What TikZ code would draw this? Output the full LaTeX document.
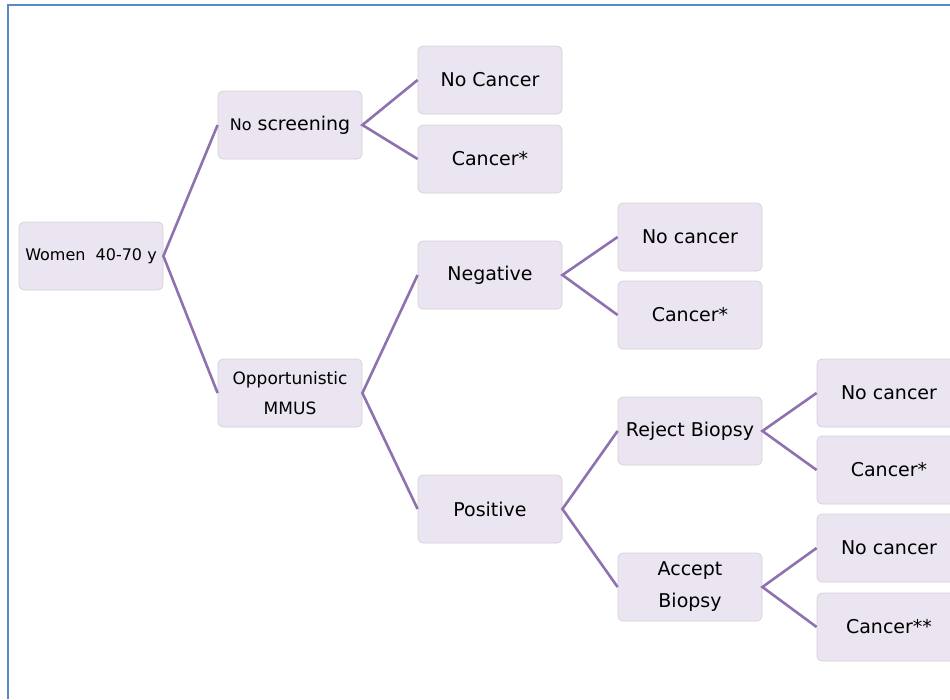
\documentclass[tikz,border=0pt]{standalone}
\usepackage{fontspec}
\setmainfont{DejaVu Sans}
\definecolor{boxfill}{HTML}{EBE4F1}
\definecolor{boxline}{HTML}{D6D2DA}
\definecolor{linkc}{HTML}{8E72B0}
\definecolor{framec}{HTML}{5A88C6}
\tikzset{
  box/.style={rectangle, rounded corners=5pt, fill=boxfill, draw=boxline, line width=0.8pt,
    minimum width=144pt, minimum height=68pt, inner sep=0pt, align=center,
    font=\fontsize{19}{32}\selectfont},
  smallbox/.style={box, font=\fontsize{16}{30}\selectfont},
  link/.style={draw=linkc, line width=2.6pt}
}
\begin{document}
\begin{tikzpicture}[x=1pt,y=-1pt]
\useasboundingbox (0,0) rectangle (950,699);
\fill[white] (0,0) rectangle (950,699);
\draw[framec, line width=1.3pt] (8,699) -- (8,5) -- (950,5);
\node[smallbox] (w) at (91,256) {Women\ \ 40-70 y};
\node[box] (ns) at (290,125) {{\fontsize{16}{18}\selectfont No} screening};
\node[smallbox, font=\fontsize{17}{30}\selectfont] (om) at (290,393) {Opportunistic\\MMUS};
\node[box] (nc1) at (490,80) {No Cancer};
\node[box] (c1) at (490,159) {Cancer*};
\node[box] (neg) at (490,275) {Negative};
\node[box] (pos) at (490,509) {Positive};
\node[box] (nc2) at (690,237) {No cancer};
\node[box] (c2) at (690,315) {Cancer*};
\node[box] (rb) at (690,431) {Reject Biopsy};
\node[box] (ab) at (690,587) {Accept\\Biopsy};
\node[box] (nc3) at (889,393) {No cancer};
\node[box] (c3) at (889,470) {Cancer*};
\node[box] (nc4) at (889,548) {No cancer};
\node[box] (c4) at (889,627) {Cancer**};
\draw[link] (ns.west) -- (w.east) -- (om.west);
\draw[link] (nc1.west) -- (ns.east) -- (c1.west);
\draw[link] (neg.west) -- (om.east) -- (pos.west);
\draw[link] (nc2.west) -- (neg.east) -- (c2.west);
\draw[link] (rb.west) -- (pos.east) -- (ab.west);
\draw[link] (nc3.west) -- (rb.east) -- (c3.west);
\draw[link] (nc4.west) -- (ab.east) -- (c4.west);
\end{tikzpicture}
\end{document}
